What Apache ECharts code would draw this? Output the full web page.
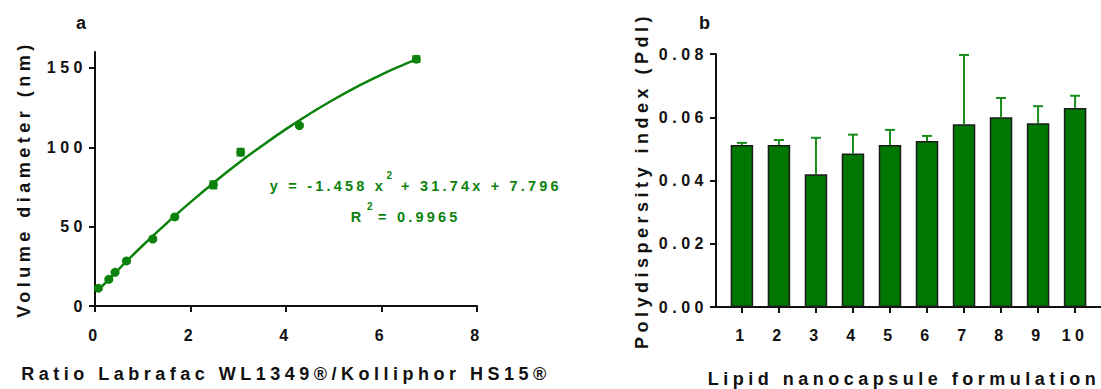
<!DOCTYPE html>
<html>
<head>
<meta charset="utf-8">
<script src="https://cdn.jsdelivr.net/npm/echarts@6/dist/echarts.min.js"></script>
<style>
  html, body { margin: 0; padding: 0; background: #fff; }
  #chart { width: 1101px; height: 389px; }
  svg text { letter-spacing: 4.5px; }
  svg text[style*="16px"] { letter-spacing: 4.5px; }
  svg text[style*="14.5px"] { letter-spacing: 3.2px; }
  svg text[style*="10px"] { letter-spacing: 0px; }
</style>
</head>
<body>
<div id="chart"></div>
<script>
// ---------- Panel a: volume diameter vs ratio ----------
const ratioX = [0.07, 0.29, 0.42, 0.66, 1.21, 1.67, 2.48, 3.05, 4.28, 6.73];
const diameterY = [11.2, 16.8, 21.2, 28.4, 42.2, 56.1, 76.3, 96.9, 113.7, 155.5];
const diameterErr = [0.8, 0.8, 0.8, 0.8, 0.8, 0.8, 2.2, 2.1, 0.8, 1.8];
// fitted curve
const fitX = [0.07, 0.5, 1, 1.5, 2, 2.5, 3, 3.5, 4, 4.5, 5, 5.5, 6, 6.5, 6.73];
const fitY = [10.0, 23.3, 38.1, 52.1, 65.4, 78.0, 89.9, 101.0, 111.4, 121.1, 130.1, 138.3, 145.8, 152.5, 155.4];
const leftYTicks = [0, 50, 100, 150];
const eqMain = 'y = -1.458 x';
const eqRest = '+ 31.74x + 7.796';
const r2Main = 'R';
const r2Rest = '= 0.9965';

// ---------- Panel b: polydispersity index ----------
const formulations = [1, 2, 3, 4, 5, 6, 7, 8, 9, 10];
const pdi = [0.0512, 0.0512, 0.0420, 0.0485, 0.0512, 0.0525, 0.0578, 0.0600, 0.0581, 0.0629];
const pdiErr = [0.0007, 0.0016, 0.0115, 0.0060, 0.0048, 0.0016, 0.0219, 0.0061, 0.0054, 0.0039];

const FONT = 'Liberation Sans';
const GREEN = '#0b820b';
const BAR_GREEN = '#007700';
const ERR_GREEN = '#1a8c1a';
const INK = '#111111';

const chart = echarts.init(document.getElementById('chart'), null, { renderer: 'svg', width: 1101, height: 389 });

function axisCommon() {
  return {
    axisLine: { show: true, onZero: false, lineStyle: { color: INK, width: 2 } },
    axisTick: { show: true, inside: false, length: 6, lineStyle: { color: INK, width: 2 } },
    splitLine: { show: false },
    axisLabel: { color: INK, fontSize: 16, fontWeight: 'bold', fontFamily: FONT },
    nameLocation: 'middle',
    nameTextStyle: { color: INK, fontSize: 18, fontWeight: 'bold', fontFamily: FONT }
  };
}

function errRender(color, halfCap, upOnly) {
  return function (params, api) {
    const x = api.value(0), v = api.value(1), e = api.value(2);
    const top = api.coord([x, v + e]);
    const bot = api.coord([x, upOnly ? v : v - e]);
    const st = { stroke: color, lineWidth: 2 };
    const children = [
      { type: 'line', shape: { x1: top[0], y1: top[1], x2: bot[0], y2: bot[1] }, style: st },
      { type: 'line', shape: { x1: top[0] - halfCap, y1: top[1], x2: top[0] + halfCap, y2: top[1] }, style: st }
    ];
    if (!upOnly) {
      children.push({ type: 'line', shape: { x1: bot[0] - halfCap, y1: bot[1], x2: bot[0] + halfCap, y2: bot[1] }, style: st });
    }
    return { type: 'group', children: children };
  };
}

const xa0 = axisCommon();
Object.assign(xa0, {
  type: 'value', gridIndex: 0, min: 0, max: 8, interval: 2,
  name: 'Ratio Labrafac WL1349®/Kolliphor HS15®', nameGap: 59
});
xa0.axisLabel.margin = 21;

const ya0 = axisCommon();
Object.assign(ya0, {
  type: 'value', gridIndex: 0, min: 0, max: 160,
  name: 'Volume diameter (nm)', nameGap: 62
});
ya0.axisLabel.margin = 8;
ya0.axisLabel.customValues = leftYTicks;
ya0.axisTick.customValues = leftYTicks;

const xa1 = axisCommon();
Object.assign(xa1, {
  type: 'value', gridIndex: 1, min: 0.3, max: 10.7,
  name: 'Lipid nanocapsule formulation', nameGap: 63
});
xa1.nameTextStyle.padding = [0, 9, 0, 0];
xa1.axisLabel.margin = 20;
xa1.axisLabel.customValues = formulations;
xa1.axisTick.customValues = formulations;
xa1.axisLabel.formatter = function (v) { return String(Math.round(v)); };

const ya1 = axisCommon();
Object.assign(ya1, {
  type: 'value', gridIndex: 1, min: 0, max: 0.08, interval: 0.02,
  name: 'Polydispersity index (PdI)', nameGap: 65
});
ya1.axisLabel.margin = 8;
ya1.axisLabel.formatter = function (v) { return v.toFixed(2); };

const eqStyleMain = { fill: GREEN, fontSize: 14.5, fontWeight: 'bold', fontFamily: FONT };
const eqStyleSup = { fill: GREEN, fontSize: 10, fontWeight: 'bold', fontFamily: FONT };

chart.setOption({
  animation: false,
  backgroundColor: '#ffffff',
  title: [
    { text: 'a', left: 71, top: 9, textStyle: { color: INK, fontSize: 18, fontWeight: 'bold', fontFamily: FONT } },
    { text: 'b', left: 694, top: 9, textStyle: { color: INK, fontSize: 18, fontWeight: 'bold', fontFamily: FONT } }
  ],
  grid: [
    { left: 95, top: 52, width: 382, height: 254, outerBoundsMode: 'none', containLabel: false },
    { left: 716, top: 54, width: 385, height: 253, outerBoundsMode: 'none', containLabel: false }
  ],
  xAxis: [xa0, xa1],
  yAxis: [ya0, ya1],
  graphic: [
    { type: 'text', x: 386, y: 185.5, style: Object.assign({ text: eqMain, align: 'right', verticalAlign: 'middle', textAlign: 'right', textVerticalAlign: 'middle' }, eqStyleMain) },
    { type: 'text', x: 386.5, y: 175.5, style: Object.assign({ text: '2', align: 'left', verticalAlign: 'middle', textAlign: 'left', textVerticalAlign: 'middle' }, eqStyleSup) },
    { type: 'text', x: 401, y: 185.5, style: Object.assign({ text: eqRest, align: 'left', verticalAlign: 'middle', textAlign: 'left', textVerticalAlign: 'middle' }, eqStyleMain) },
    { type: 'text', x: 364.5, y: 217, style: Object.assign({ text: r2Main, align: 'right', verticalAlign: 'middle', textAlign: 'right', textVerticalAlign: 'middle' }, eqStyleMain) },
    { type: 'text', x: 367, y: 206.5, style: Object.assign({ text: '2', align: 'left', verticalAlign: 'middle', textAlign: 'left', textVerticalAlign: 'middle' }, eqStyleSup) },
    { type: 'text', x: 378, y: 217, style: Object.assign({ text: r2Rest, align: 'left', verticalAlign: 'middle', textAlign: 'left', textVerticalAlign: 'middle' }, eqStyleMain) }
  ],
  series: [
    {
      type: 'line', xAxisIndex: 0, yAxisIndex: 0, smooth: true, showSymbol: false, symbol: 'none',
      data: fitX.map((x, i) => [x, fitY[i]]),
      lineStyle: { color: GREEN, width: 2.5 }, z: 2, silent: true
    },
    {
      type: 'custom', xAxisIndex: 0, yAxisIndex: 0, coordinateSystem: 'cartesian2d',
      data: ratioX.map((x, i) => [x, diameterY[i], diameterErr[i]]),
      renderItem: errRender(GREEN, 4, false), encode: { x: 0, y: 1 }, z: 3, silent: true
    },
    {
      type: 'scatter', xAxisIndex: 0, yAxisIndex: 0, symbol: 'circle', symbolSize: 9,
      data: ratioX.map((x, i) => [x, diameterY[i]]),
      itemStyle: { color: GREEN, opacity: 1 }, z: 4, silent: true
    },
    {
      type: 'bar', xAxisIndex: 1, yAxisIndex: 1, barWidth: 22.5,
      data: formulations.map((f, i) => [f, pdi[i]]),
      itemStyle: { color: BAR_GREEN, borderColor: '#1c1c1c', borderWidth: 1.5 }, z: 2, silent: true
    },
    {
      type: 'custom', xAxisIndex: 1, yAxisIndex: 1, coordinateSystem: 'cartesian2d',
      data: formulations.map((f, i) => [f, pdi[i], pdiErr[i]]),
      renderItem: errRender(ERR_GREEN, 5, true), encode: { x: 0, y: 1 }, z: 3, silent: true
    }
  ]
});
</script>
</body>
</html>
